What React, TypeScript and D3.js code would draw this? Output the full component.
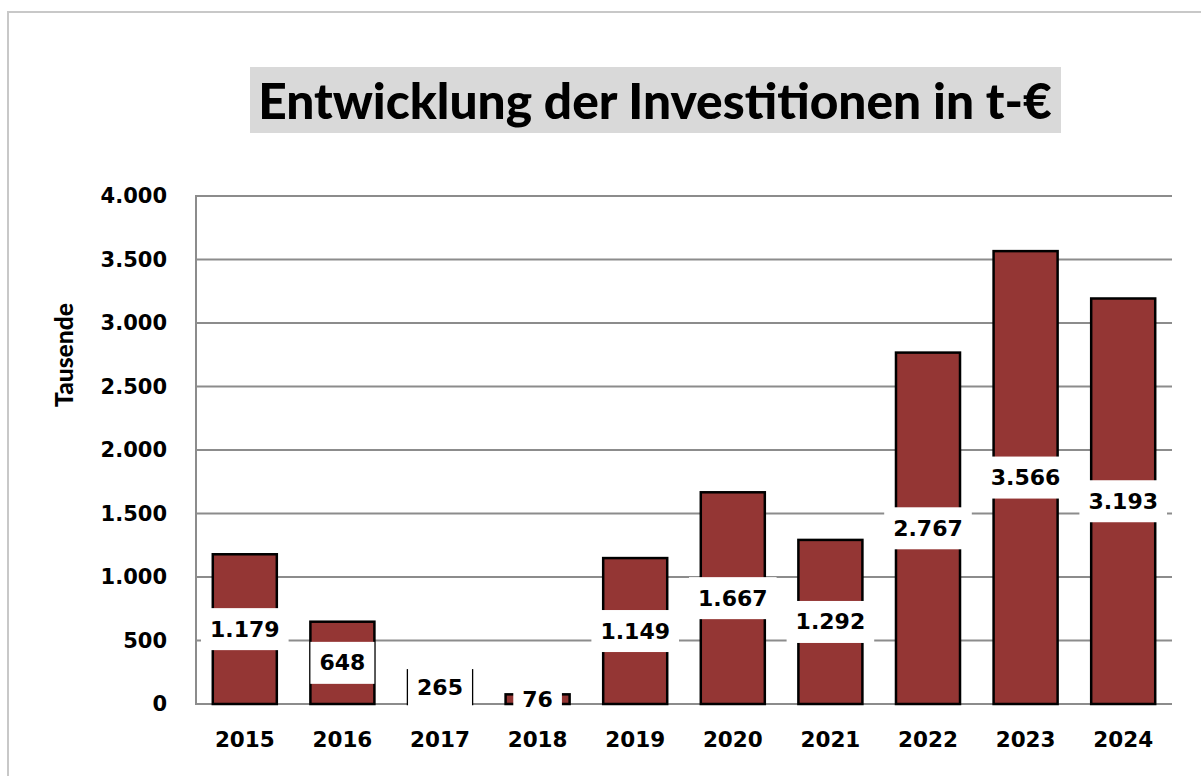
import { useEffect, useRef } from "react";
import * as d3 from "d3";

const years = ["2015", "2016", "2017", "2018", "2019", "2020", "2021", "2022", "2023", "2024"];
const investments = [1179, 648, 265, 76, 1149, 1667, 1292, 2767, 3566, 3193];
const yTicks = [0, 500, 1000, 1500, 2000, 2500, 3000, 3500, 4000];

const title = "Entwicklung der Investitionen in t-€";
const yTitle = "Tausende";

const W = 1201;
const H = 776;
const numFont = "'DejaVu Sans', Verdana, sans-serif";
const titleFont = "Lato, 'Open Sans', sans-serif";

// German number format: 1.179
const fmt = (v: number) => d3.format(",")(v).replace(/,/g, ".");

// scale a text's font size so it spans the given width
const fitText = (t: d3.Selection<SVGTextElement, unknown, null, undefined>, size: number, target: number) => {
  const len = (t.node() as SVGTextElement).getComputedTextLength();
  if (len > 0) t.style("font-size", `${(size * target) / len}px`);
};

const App = () => {
  const ref = useRef<SVGSVGElement>(null);

  useEffect(() => {
    if (!ref.current) return;
    const svg = d3.select(ref.current);
    svg.selectAll("*").remove();

    const left = 196;
    const right = 1172;
    const top = 196;
    const bottom = 704;

    const x = d3.scaleBand<string>().domain(years).range([left, right]).paddingInner(0.344).paddingOuter(0.172);
    const y = d3.scaleLinear().domain([0, 4000]).range([bottom, top]);

    // outer frame
    svg
      .append("rect")
      .attr("x", 8)
      .attr("y", 12)
      .attr("width", W)
      .attr("height", H)
      .attr("fill", "white")
      .attr("stroke", "#c8c8c8")
      .attr("stroke-width", 2);

    // title
    svg.append("rect").attr("x", 250).attr("y", 67).attr("width", 811).attr("height", 66).attr("fill", "#d9d9d9");
    const tText = svg
      .append("text")
      .attr("x", 655)
      .attr("y", 100)
      .attr("text-anchor", "middle")
      .attr("dominant-baseline", "central")
      .style("font-family", titleFont)
      .style("font-weight", 900)
      .style("font-size", "44px")
      .style("fill", "#000")
      .text(title);
    fitText(tText as any, 44, 794);

    // gridlines
    svg
      .append("g")
      .selectAll("line")
      .data(yTicks.filter((d) => d > 0))
      .enter()
      .append("line")
      .attr("x1", left)
      .attr("x2", right)
      .attr("y1", (d) => y(d))
      .attr("y2", (d) => y(d))
      .attr("stroke", "#8c8c8c")
      .attr("stroke-width", 2);

    // axes lines
    svg
      .append("line")
      .attr("x1", left)
      .attr("x2", left)
      .attr("y1", top - 1)
      .attr("y2", bottom)
      .attr("stroke", "#8c8c8c")
      .attr("stroke-width", 2);
    svg
      .append("line")
      .attr("x1", left - 1)
      .attr("x2", right)
      .attr("y1", bottom)
      .attr("y2", bottom)
      .attr("stroke", "#8c8c8c")
      .attr("stroke-width", 2);

    // y tick labels
    svg
      .append("g")
      .selectAll("text")
      .data(yTicks)
      .enter()
      .append("text")
      .attr("x", 167)
      .attr("y", (d) => y(d))
      .attr("text-anchor", "end")
      .attr("dominant-baseline", "central")
      .style("font-family", numFont)
      .style("font-weight", "bold")
      .style("font-size", "21px")
      .text((d) => fmt(d));

    // y axis title
    const yt = svg
      .append("text")
      .attr("transform", "translate(63,355) rotate(-90)")
      .attr("text-anchor", "middle")
      .attr("dominant-baseline", "central")
      .style("font-family", titleFont)
      .style("font-weight", 900)
      .style("font-size", "22px")
      .text(yTitle);
    fitText(yt as any, 22, 104);

    // bars
    svg
      .append("g")
      .selectAll("rect")
      .data(investments)
      .enter()
      .append("rect")
      .attr("x", (_, i) => x(years[i]) as number)
      .attr("y", (d) => y(d))
      .attr("width", x.bandwidth())
      .attr("height", (d) => bottom - y(d))
      .attr("fill", "#943634")
      .attr("stroke", "#000")
      .attr("stroke-width", 2.5);

    // x labels
    svg
      .append("g")
      .selectAll("text")
      .data(years)
      .enter()
      .append("text")
      .attr("x", (d) => (x(d) as number) + x.bandwidth() / 2)
      .attr("y", 739)
      .attr("text-anchor", "middle")
      .attr("dominant-baseline", "central")
      .style("font-family", numFont)
      .style("font-weight", "bold")
      .style("font-size", "21.5px")
      .text((d) => d);

    // data labels with white boxes at mid bar
    const labels = svg
      .append("g")
      .selectAll("g")
      .data(investments)
      .enter()
      .append("g")
      .attr("transform", (d, i) => `translate(${(x(years[i]) as number) + x.bandwidth() / 2},${y(d / 2)})`);

    const boxes = labels.append("rect").attr("fill", "white");
    const texts = labels
      .append("text")
      .attr("text-anchor", "middle")
      .attr("dominant-baseline", "central")
      .style("font-family", numFont)
      .style("font-weight", "bold")
      .style("font-size", "22px")
      .text((d) => fmt(d));

    texts.each(function (_, i) {
      const w = (this as SVGTextElement).getComputedTextLength() + 18;
      d3.select(boxes.nodes()[i])
        .attr("x", -w / 2)
        .attr("y", -21)
        .attr("width", w)
        .attr("height", 42);
    });
  }, []);

  return (
    <svg
      ref={ref}
      width={W}
      height={H}
      style={{ position: "absolute", left: 0, top: 0, display: "block", background: "white" }}
    />
  );
};

export default App;
